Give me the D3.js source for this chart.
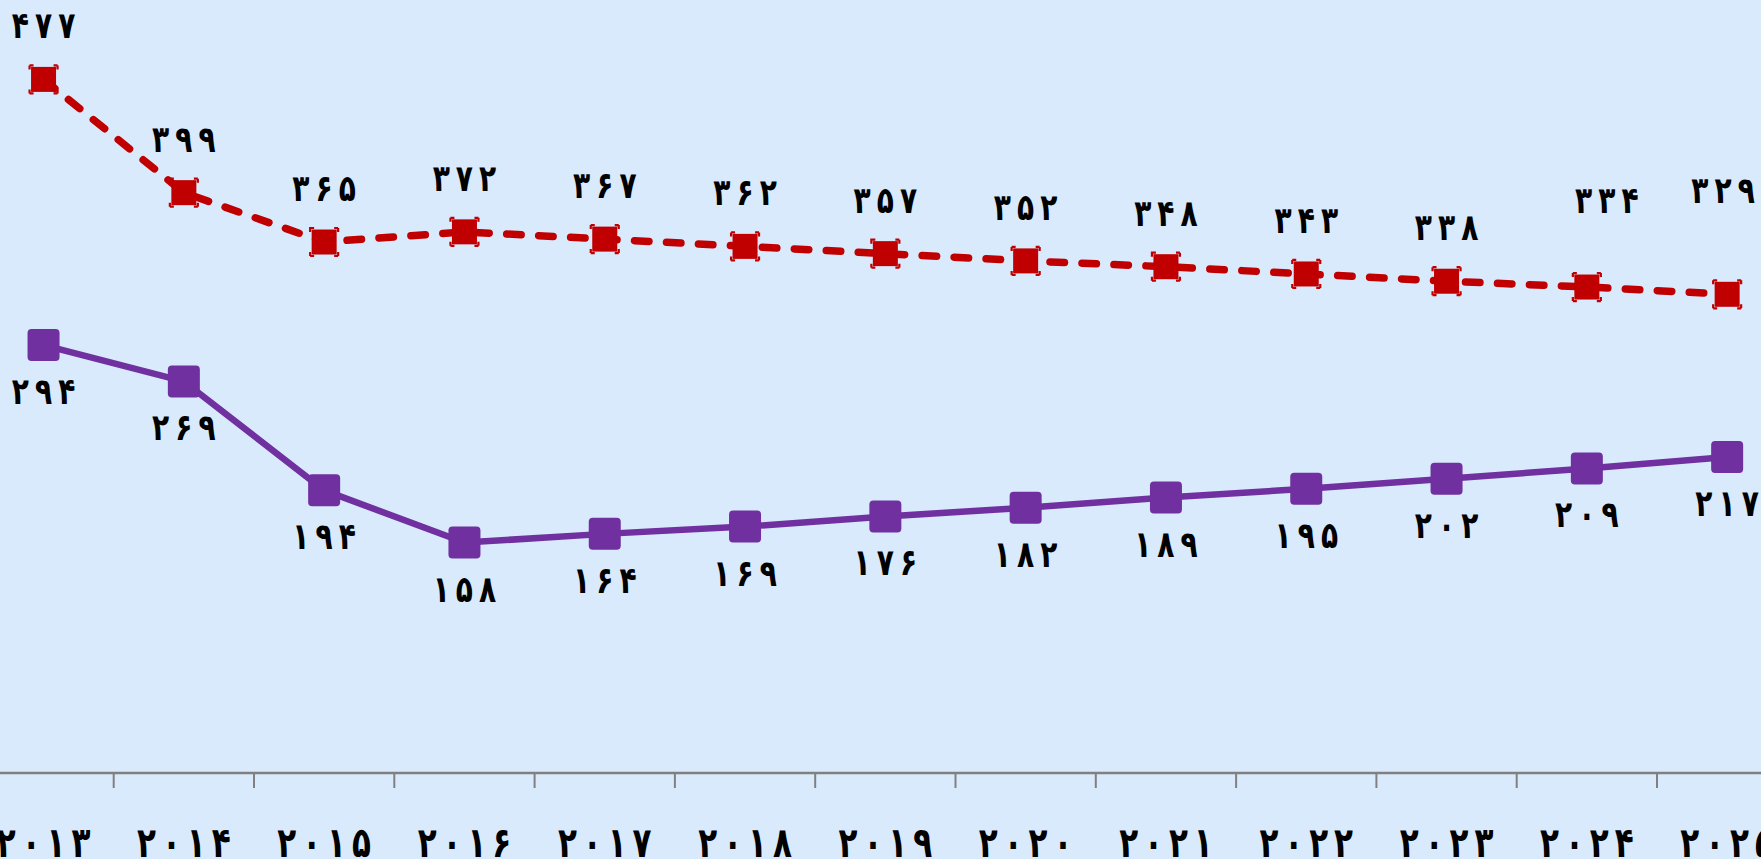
<!DOCTYPE html>
<html><head><meta charset="utf-8">
<script src="https://cdn.jsdelivr.net/npm/d3@7"></script>
<style>
html,body{margin:0;padding:0;background:#d9eafd;overflow:hidden;}
svg{display:block;}
text{font-family:"DejaVu Sans",sans-serif;font-weight:bold;fill:#000;}
</style></head>
<body>
<svg id="chart" width="1761" height="859"></svg>
<script>
// ---- data ----
const years = ["2013","2014","2015","2016","2017","2018","2019","2020","2021","2022","2023","2024","2025"];
const yearLabels = ["۲۰۱۳","۲۰۱۴","۲۰۱۵","۲۰۱۶","۲۰۱۷","۲۰۱۸","۲۰۱۹","۲۰۲۰","۲۰۲۱","۲۰۲۲","۲۰۲۳","۲۰۲۴","۲۰۲۵"];
const redValues = [477,399,365,372,367,362,357,352,348,343,338,334,329];
const purpleValues = [294,269,194,158,164,169,176,182,189,195,202,209,217];

// ---- layout ----
const W = 1761, H = 859;
const bandW = 140.3, x0 = -26.6;
const axisY = 773;
const redColor = "#c00000", purpleColor = "#7030a0";
// manual label nudges (px) for the red series, as in the reference
const redLabelNudge = {11: {dx: 20, dy: -33}, 12: {dx: -4, dy: -50}};
const toFa = n => String(n).replace(/[0-9]/g, d => "۰۱۲۳۴۵۶۷۸۹"[+d]);

const svg = d3.select("#chart");
svg.append("rect").attr("width", W).attr("height", H).attr("fill", "#d9eafd");

const x = d3.scaleBand().domain(years).range([x0, x0 + bandW * years.length]).paddingInner(0).paddingOuter(0);
const y = d3.scaleLinear().domain([0, 530]).range([axisY - 1, axisY - 1 - 530 * 1.452]);
const cx = d => x(d) + x.bandwidth() / 2;

// axis
const axis = svg.append("g").attr("transform", `translate(0,${axisY})`);
axis.append("line").attr("x1", 0).attr("x2", W).attr("y1", 0).attr("y2", 0)
  .attr("stroke", "#808080").attr("stroke-width", 2.5);
const bounds = years.map(d => x(d)).concat([x.range()[1]]);
axis.selectAll("line.tick").data(bounds).enter().append("line").attr("class", "tick")
  .attr("x1", d => d).attr("x2", d => d).attr("y1", 0).attr("y2", 15)
  .attr("stroke", "#808080").attr("stroke-width", 2);

// spaced digit labels: one tspan per digit (letter-spacing is ignored for Arabic script)
function spacedText(sel, str, size, gap) {
  sel.text(null).attr("text-anchor", "middle")
    .style("font-size", size + "px")
    .style("font-family", "DejaVu Sans").style("font-weight", "bold").attr("fill", "#000");
  Array.from(str).forEach((ch, k) => {
    sel.append("tspan").attr("dx", k === 0 ? 0 : gap).text(ch);
  });
}

const xAxis = d3.axisBottom(x).tickSize(0).tickFormat((d, i) => yearLabels[i]);
const gx = svg.append("g").attr("transform", `translate(0,${axisY})`).call(xAxis);
gx.select(".domain").remove();
const ySx = 0.74, yGap = 8;
gx.selectAll("text").attr("y", null).attr("dy", null).attr("x", 0)
  .attr("transform", `translate(0,84) scale(${ySx},1)`)
  .each(function(d, i) { spacedText(d3.select(this), yearLabels[i], 42, yGap); });

const redData = years.map((d, i) => ({year: d, v: redValues[i], i}));
const purpleData = years.map((d, i) => ({year: d, v: purpleValues[i], i}));
const line = d3.line().x(d => cx(d.year)).y(d => y(d.v));

// red dashed series
svg.append("path").datum(redData).attr("d", line).attr("fill", "none")
  .attr("stroke", redColor).attr("stroke-width", 7.5).attr("stroke-dasharray", "14.5 17.5")
  .attr("stroke-linecap", "round");
svg.selectAll("rect.rc").data(redData).enter().append("rect").attr("class", "rc")
  .attr("x", d => cx(d.year) - 14).attr("y", d => y(d.v) - 14)
  .attr("width", 28).attr("height", 28).attr("fill", "none")
  .attr("stroke", redColor).attr("stroke-width", 2.2).attr("stroke-dasharray", "4 20 4 0");
svg.selectAll("rect.rm").data(redData).enter().append("rect").attr("class", "rm")
  .attr("x", d => cx(d.year) - 12.5).attr("y", d => y(d.v) - 12.5)
  .attr("width", 25).attr("height", 25).attr("fill", redColor);

// purple solid series
svg.append("path").datum(purpleData).attr("d", line).attr("fill", "none")
  .attr("stroke", purpleColor).attr("stroke-width", 6.5);
svg.selectAll("rect.pm").data(purpleData).enter().append("rect").attr("class", "pm")
  .attr("x", d => cx(d.year) - 16).attr("y", d => y(d.v) - 16)
  .attr("width", 32).attr("height", 32).attr("rx", 4).attr("fill", purpleColor);

// data labels
const lSize = 37, lSx = 0.76, lGap = 8;
svg.selectAll("text.rl").data(redData).enter().append("text").attr("class", "rl")
  .attr("x", 0).attr("dy", "0.35em")
  .attr("transform", d => {
    const n = redLabelNudge[d.i] || {dx: 0, dy: 0};
    return `translate(${cx(d.year) + n.dx},${y(d.v) - 54 + n.dy}) scale(${lSx},1)`;
  })
  .each(function(d) { spacedText(d3.select(this), toFa(d.v), lSize, lGap); });
svg.selectAll("text.pl").data(purpleData).enter().append("text").attr("class", "pl")
  .attr("x", 0).attr("dy", "0.35em")
  .attr("transform", d => `translate(${cx(d.year)},${y(d.v) + 46}) scale(${lSx},1)`)
  .each(function(d) { spacedText(d3.select(this), toFa(d.v), lSize, lGap); });
</script>
</body></html>
